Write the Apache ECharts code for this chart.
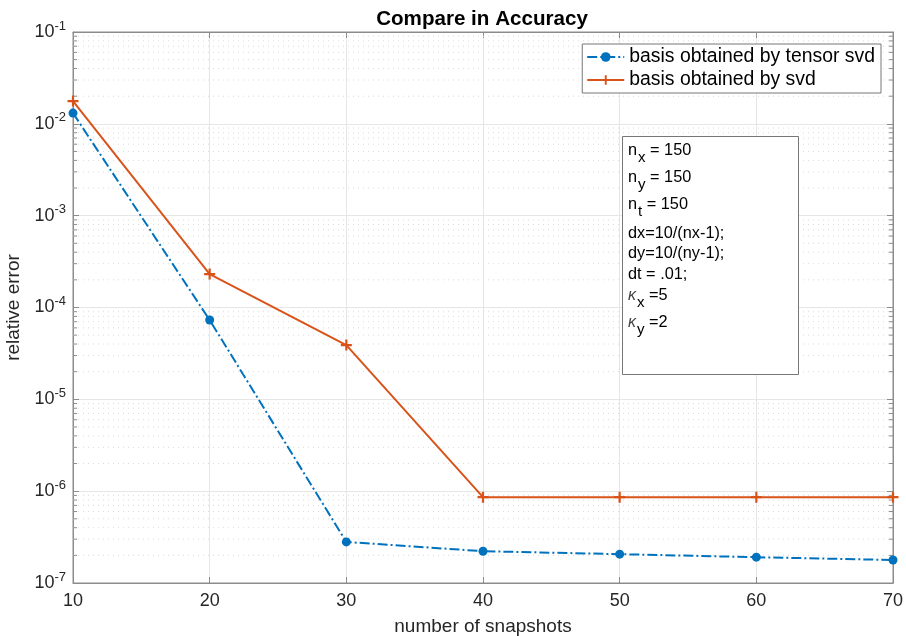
<!DOCTYPE html>
<html>
<head>
<meta charset="utf-8">
<script src="https://cdn.jsdelivr.net/npm/echarts@6/dist/echarts.min.js"></script>
<style>html,body{margin:0;padding:0;background:#fff}#c{width:906px;height:636px}</style>
</head>
<body>
<div id="c"></div>
<script>
const snapshots = [10, 20, 30, 40, 50, 60, 70];
const tensorSvd = [1.31e-2, 7.3e-5, 2.8e-7, 2.22e-7, 2.06e-7, 1.91e-7, 1.78e-7];
const plainSvd = [1.77e-2, 2.31e-4, 3.9e-5, 8.6e-7, 8.6e-7, 8.6e-7, 8.6e-7];
const seriesNames = ['basis obtained by tensor svd', 'basis obtained by svd'];
const yMin = 1e-7, yMax = 1e-1;
const minorVals = [];
for (let k = -7; k < -1; k++) for (let m = 2; m <= 9; m++) minorVals.push(m * Math.pow(10, k));

const FONT = '"Liberation Sans", Arial, Helvetica, sans-serif';
const chart = echarts.init(document.getElementById('c'));
const gridC = '#e6e6e6', axisC = '#8c8c8c', textC = '#262626';

const yLabel = {
  fontFamily: FONT, color: textC, margin: 7,
  formatter: v => '{b|10}{s|' + Math.round(Math.log10(v)) + '}',
  rich: { b: { fontSize: 18, fontFamily: FONT, color: textC }, s: { fontSize: 13, fontFamily: FONT, color: textC, padding: [0, 0, 12, 0] } }
};

const boxLines = [
  { y: 151, t: '{n|n}{sub|x}{n| = 150}' },
  { y: 178, t: '{n|n}{sub|y}{n| = 150}' },
  { y: 205, t: '{n|n}{sub|t}{n| = 150}' },
  { y: 234, t: '{n|dx=10/(nx-1);}' },
  { y: 254, t: '{n|dy=10/(ny-1);}' },
  { y: 275, t: '{n|dt = .01;}' },
  { y: 296, t: '{k|κ}{sub|x}{n| =5}' },
  { y: 323, t: '{k|κ}{sub|y}{n| =2}' }
];
const richBox = {
  n: { fontSize: 16.3, fontFamily: FONT, fill: '#000' },
  k: { fontSize: 16, fontFamily: FONT, fontStyle: 'italic', fill: '#444' },
  sub: { fontSize: 15, fontFamily: FONT, padding: [13, 0, 0, 1], fill: '#000' }
};

chart.setOption({
  animation: false,
  title: { text: 'Compare in Accuracy', left: 477, top: 4, textAlign: 'center',
    textStyle: { fontFamily: FONT, fontSize: 20.6, fontWeight: 'bold', color: '#000' } },
  grid: { left: 73, right: 13, top: 32, bottom: 53, show: true, borderColor: axisC, borderWidth: 1,
    containLabel: false, outerBoundsMode: 'none' },
  legend: {
    orient: 'vertical', right: 25, top: 44, backgroundColor: '#fff',
    borderColor: '#777', borderWidth: 1, padding: [2, 6, 2, 4], itemGap: 1,
    itemWidth: 37, itemHeight: 12,
    textStyle: { fontFamily: FONT, fontSize: 19.4, lineHeight: 22, color: '#000' },
    data: seriesNames
  },
  xAxis: [{
    type: 'value', min: 10, max: 70, interval: 10,
    name: 'number of snapshots', nameLocation: 'middle', nameGap: 34,
    nameTextStyle: { fontFamily: FONT, fontSize: 19, color: textC },
    axisLine: { lineStyle: { color: axisC } },
    axisTick: { inside: true, length: 6, lineStyle: { color: axisC } },
    axisLabel: { fontFamily: FONT, fontSize: 18, color: textC, margin: 9 },
    splitLine: { show: true, lineStyle: { color: gridC, width: 1 } }
  }, {
    type: 'value', min: 10, max: 70, interval: 10, position: 'top',
    axisLine: { show: true, lineStyle: { color: axisC } },
    axisTick: { inside: true, length: 6, lineStyle: { color: axisC } },
    axisLabel: { show: false }, splitLine: { show: false }
  }],
  yAxis: [{
    type: 'log', logBase: 10, min: yMin, max: yMax,
    name: 'relative error', nameLocation: 'middle', nameGap: 50, nameRotate: 90,
    nameTextStyle: { fontFamily: FONT, fontSize: 19, color: textC },
    axisLine: { show: true, lineStyle: { color: axisC } },
    axisTick: { inside: true, length: 6, lineStyle: { color: axisC } },
    axisLabel: yLabel,
    splitLine: { show: true, lineStyle: { color: gridC, width: 1 } }
  }, {
    type: 'log', logBase: 10, min: yMin, max: yMax, position: 'right',
    axisLine: { show: true, lineStyle: { color: axisC } },
    axisTick: { inside: true, length: 6, lineStyle: { color: axisC } },
    axisLabel: { show: false }, splitLine: { show: false }
  }],
  series: [{
    type: 'custom', xAxisIndex: 0, yAxisIndex: 0, silent: true, z: 1,
    data: minorVals.map(v => [snapshots[0], v]),
    renderItem: (params, api) => {
      const y = api.coord([api.value(0), api.value(1)])[1];
      const cs = params.coordSys;
      return { type: 'group', children: [
        { type: 'line', shape: { x1: cs.x, y1: y, x2: cs.x + cs.width, y2: y },
          style: { stroke: '#dadada', lineDash: [1, 4], lineWidth: 1 } },
        { type: 'line', shape: { x1: cs.x, y1: y, x2: cs.x + 4, y2: y },
          style: { stroke: axisC, lineWidth: 1 } },
        { type: 'line', shape: { x1: cs.x + cs.width - 4, y1: y, x2: cs.x + cs.width, y2: y },
          style: { stroke: axisC, lineWidth: 1 } }
      ] };
    }
  }, {
    name: seriesNames[0], type: 'line', xAxisIndex: 0, yAxisIndex: 0,
    data: snapshots.map((x, i) => [x, tensorSvd[i]]),
    color: '#0072BD', symbol: 'circle', symbolSize: 9,
    lineStyle: { width: 2, type: [10, 3, 2, 3] },
    itemStyle: { color: '#0072BD' }, z: 4
  }, {
    name: seriesNames[1], type: 'line', xAxisIndex: 0, yAxisIndex: 0,
    data: snapshots.map((x, i) => [x, plainSvd[i]]),
    color: '#D95319', symbol: 'path://M4,0h2v4h4v2h-4v4h-2v-4h-4v-2h4z', symbolSize: 11,
    lineStyle: { width: 2 }, itemStyle: { color: '#D95319' }, z: 5
  }],
  graphic: [{
    type: 'rect', left: 622, top: 136, z: 100,
    shape: { x: 0, y: 0, width: 176, height: 238 },
    style: { fill: '#fff', stroke: '#777', lineWidth: 1 }
  }].concat(boxLines.map(l => ({
    type: 'text', x: 628, y: l.y, z: 101,
    style: { text: l.t, rich: richBox, fill: '#000', font: '16px ' + FONT, verticalAlign: 'middle' }
  })))
});
</script>
</body>
</html>
